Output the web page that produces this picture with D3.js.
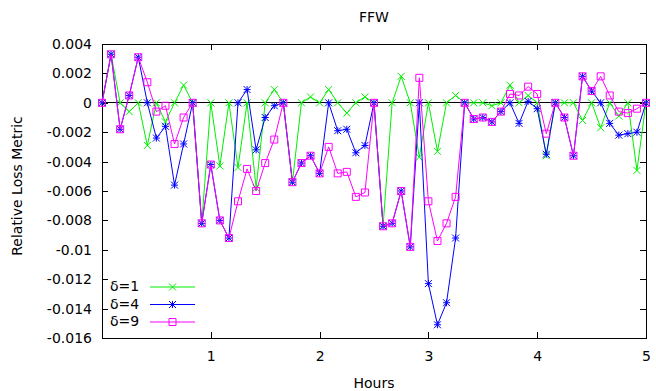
<!DOCTYPE html>
<html>
  <head>
    <meta charset="utf-8">
    <title>FFW</title>
    <script type="text/javascript" src="https://cdn.jsdelivr.net/npm/d3@7"></script>
    <style>
    body {
      margin: 0;
      background: #fff;
    }
    text {
      font-family: "DejaVu Sans", sans-serif;
      font-size: 14px;
      fill: #000;
    }
    .line {
      fill: none;
      stroke-width: 1;
    }
    </style>
  </head>
  <body>
    <div id="chart"></div>
    <script type="text/javascript">

      // values every 5 minutes (1/12 hour), 0..5 hours
      var delta1 = [0, 0.0033, 0, -0.0006, 0, -0.0029, 0, -0.0013, 0, 0.0012,
        0, -0.0082, 0, -0.0043, 0, -0.0044, 0, -0.0058, 0, 0.0009,
        0, -0.0054, 0, 0.0004, 0, 0.0009, 0, -0.0007, 0, 0.0004,
        0, -0.0084, 0, 0.0018, 0, -0.0037, 0, -0.0033, 0, 0.0005,
        0, 0, 0, -0.0002, 0, 0.0012, 0, 0.0005, 0, -0.0036,
        0, 0, 0, -0.0012, 0, -0.0017, 0, -0.0009, 0, -0.0046, 0];
      var delta4 = [0, 0.0033, -0.0018, 0.0005, 0.0031, 0, -0.0024, -0.0016, -0.0056, -0.0028,
        0, -0.0082, -0.0042, -0.0080, -0.0092, 0, 0.0009, -0.0032, -0.0010, -0.0002,
        0, -0.0054, -0.0041, -0.0036, -0.0048, 0, -0.0019, -0.0018, -0.0034, -0.0029,
        0, -0.0084, -0.0082, -0.0060, -0.0098, 0, -0.0123, -0.0151, -0.0136, -0.0092,
        0, -0.0011, -0.0010, -0.0013, -0.0006, 0, -0.0014, 0.0001, -0.0004, -0.0035,
        0, -0.0010, -0.0036, 0.0018, 0.0008, 0, -0.0014, -0.0022, -0.0021, -0.0020, 0];
      var delta9 = [0, 0.0033, -0.0018, 0.0005, 0.0031, 0.0014, -0.0006, -0.0002, -0.0028, -0.0010,
        0, -0.0082, -0.0042, -0.0080, -0.0092, -0.0067, -0.0045, -0.0060, -0.0041, -0.0025,
        0, -0.0054, -0.0041, -0.0036, -0.0048, -0.0030, -0.0048, -0.0047, -0.0064, -0.0061,
        0, -0.0084, -0.0082, -0.0060, -0.0098, 0.0017, -0.0067, -0.0094, -0.0082, -0.0064,
        0, -0.0011, -0.0010, -0.0013, -0.0006, 0.0006, 0.0005, 0.0011, 0.0006, -0.0021,
        0, -0.0010, -0.0036, 0.0018, 0.0008, 0.0018, 0.0005, -0.0006, -0.0007, -0.0004, 0];

      var xTicks = [1, 2, 3, 4, 5];
      var yTicks = [0.004, 0.002, 0, -0.002, -0.004, -0.006, -0.008, -0.01, -0.012, -0.014, -0.016];
      var seriesNames = ['δ=1', 'δ=4', 'δ=9'];
      var colors = ['#00f000', '#0000ff', '#ff00ff'];
      var markers = ['cross', 'star', 'square'];

      var width = 656, height = 391;
      var margin = {top: 44, right: 10, bottom: 53, left: 102};

      var svg = d3.select('#chart').append('svg')
        .attr('width', width)
        .attr('height', height);

      var x = d3.scaleLinear().domain([0, 5]).range([margin.left, width - margin.right]);
      var y = d3.scaleLinear().domain([-0.016, 0.004]).range([height - margin.bottom, margin.top]);

      var fmt = function(d) { return d === 0 ? '0' : String(+d.toFixed(3)); };

      // axes, ticks pointing inward like gnuplot
      svg.append('g').attr('transform', 'translate(0,' + y(-0.016) + ')')
        .call(d3.axisBottom(x).tickValues(xTicks).tickSize(-6).tickPadding(13).tickFormat(d3.format('d')));
      svg.append('g').attr('transform', 'translate(' + x(0) + ',0)')
        .call(d3.axisLeft(y).tickValues(yTicks).tickSize(-6).tickPadding(10).tickFormat(fmt));
      svg.append('g').attr('transform', 'translate(0,' + y(0.004) + ')')
        .call(d3.axisTop(x).tickValues(xTicks).tickSize(-6).tickFormat(''));
      svg.append('g').attr('transform', 'translate(' + x(5) + ',0)')
        .call(d3.axisRight(y).tickValues(yTicks).tickSize(-6).tickFormat(''));

      svg.selectAll('.domain').remove();
      svg.selectAll('.tick line').attr('stroke', '#000').attr('shape-rendering', 'crispEdges');
      svg.selectAll('.tick text').style('font-size', '14px').style('font-family', '"DejaVu Sans", sans-serif');

      // border
      svg.append('rect')
        .attr('x', x(0)).attr('y', y(0.004))
        .attr('width', x(5) - x(0)).attr('height', y(-0.016) - y(0.004))
        .attr('fill', 'none').attr('stroke', '#000').attr('stroke-width', 1)
        .attr('shape-rendering', 'crispEdges');

      // zero axis
      svg.append('line')
        .attr('x1', x(0)).attr('x2', x(5))
        .attr('y1', y(0)).attr('y2', y(0))
        .attr('stroke', '#000').attr('stroke-width', 1)
        .attr('shape-rendering', 'crispEdges');

      // labels
      svg.append('text').attr('x', (x(0) + x(5)) / 2).attr('y', 22)
        .attr('text-anchor', 'middle').text('FFW');
      svg.append('text').attr('x', (x(0) + x(5)) / 2).attr('y', 388)
        .attr('text-anchor', 'middle').text('Hours');
      svg.append('text')
        .attr('transform', 'translate(18,186) rotate(-90)')
        .attr('text-anchor', 'middle')
        .attr('dominant-baseline', 'middle')
        .text('Relative Loss Metric');

      var markerPath = function(type) {
        var s = 3.5;
        if (type === 'cross') return 'M' + -s + ',' + -s + 'L' + s + ',' + s + 'M' + -s + ',' + s + 'L' + s + ',' + -s;
        if (type === 'star') return 'M' + -s + ',' + -s + 'L' + s + ',' + s + 'M' + -s + ',' + s + 'L' + s + ',' + -s +
          'M' + -s + ',0H' + s + 'M0,' + -s + 'V' + s;
        return 'M' + -s + ',' + -s + 'H' + s + 'V' + s + 'H' + -s + 'Z';
      };

      var line = d3.line()
        .x(function(d, i) { return x(i / 12); })
        .y(function(d) { return y(d); });

      var drawSeries = function(data, k) {
        svg.append('path')
          .datum(data)
          .attr('class', 'line')
          .attr('stroke', colors[k])
          .attr('d', line);
        svg.append('g').selectAll('path')
          .data(data)
          .enter()
          .append('path')
          .attr('transform', function(d, i) { return 'translate(' + x(i / 12) + ',' + y(d) + ')'; })
          .attr('d', markerPath(markers[k]))
          .attr('fill', 'none')
          .attr('stroke', colors[k])
          .attr('stroke-width', 1);
      };

      drawSeries(delta1, 0);
      drawSeries(delta4, 1);
      drawSeries(delta9, 2);

      // legend
      var legend = svg.selectAll('.legend')
        .data(seriesNames)
        .enter()
        .append('g')
        .attr('class', 'legend')
        .attr('transform', function(d, i) { return 'translate(0,' + (287 + i * 17.5) + ')'; });
      legend.append('text')
        .attr('x', 110)
        .attr('dominant-baseline', 'middle')
        .text(function(d) { return d; });
      legend.append('line')
        .attr('x1', 150).attr('x2', 195)
        .attr('y1', 0).attr('y2', 0)
        .attr('stroke', function(d, i) { return colors[i]; });
      legend.append('path')
        .attr('transform', 'translate(172.5,0)')
        .attr('d', function(d, i) { return markerPath(markers[i]); })
        .attr('fill', 'none')
        .attr('stroke', function(d, i) { return colors[i]; });
    </script>
  </body>
</html>
